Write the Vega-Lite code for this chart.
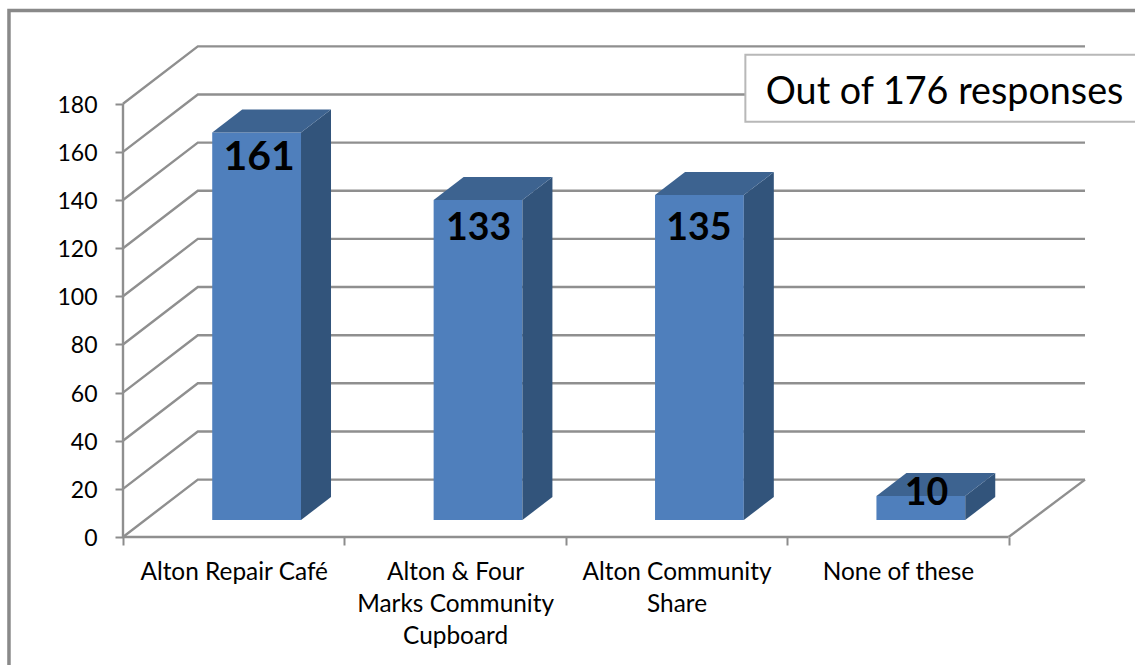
{"$schema":"https://vega.github.io/schema/vega-lite/v6.json","width":962,"height":491,"autosize":"none","padding":{"left":123,"top":46,"right":50,"bottom":128},"background":"white","config":{"view":{"stroke":null},"text":{"font":"Lato"}},
"datasets":{"bars":[{"category":"Alton Repair Café","i":0,"value":161},{"category":"Alton & Four Marks Community Cupboard","i":1,"value":133},{"category":"Alton Community Share","i":2,"value":135},{"category":"None of these","i":3,"value":10}],"ticks":[{"v":0},{"v":20},{"v":40},{"v":60},{"v":80},{"v":100},{"v":120},{"v":140},{"v":160},{"v":180}]},
"encoding":{"x":{"field":"px","type":"quantitative","title":null,"scale":{"domain":[0,4.345],"nice":false,"zero":false},"axis":{"values":[0,0.5,1,1.5,2,2.5,3,3.5,4],"domain":false,"grid":false,"tickSize":8,"tickWidth":2,"tickColor":"#8c8c8c","tickOpacity":{"expr":"datum.value % 1 == 0 ? 1 : 0"},"labelExpr":"datum.value == 0.5 ? 'Alton Repair Café' : datum.value == 1.5 ? ['Alton & Four','Marks Community','Cupboard'] : datum.value == 2.5 ? ['Alton Community','Share'] : datum.value == 3.5 ? 'None of these' : ''","labelFont":"Lato","labelFontSize":24.4,"labelColor":"#000000","labelPadding":15,"labelLineHeight":32,"labelLimit":400,"labelOverlap":false,"labelFlush":false,"labelBound":false,"labelAngle":0,"labelBaseline":"top"}},"y":{"field":"py","type":"quantitative","title":null,"stack":null,"scale":{"domain":[0,204],"nice":false},"axis":{"values":[0,20,40,60,80,100,120,140,160,180],"domain":false,"grid":false,"tickSize":8,"tickWidth":2,"tickColor":"#8c8c8c","labelFont":"Lato","labelFontSize":23,"labelColor":"#000000","labelPadding":18,"labelOffset":1.5}}},
"layer":[
{"data":{"name":"ticks"},"transform":[{"calculate":"[0,1,2]","as":"k"},{"flatten":["k"]},{"calculate":"datum.k == 0 ? 0 : datum.k == 1 ? 0.338 : 4.345","as":"px"},{"calculate":"datum.v + (datum.k == 0 ? 0 : 23.85)","as":"py"}],"mark":{"type":"line","stroke":"#8f8f8f","strokeWidth":2.4},"encoding":{"detail":{"field":"v"}}},
{"data":{"values":[{"s":"v","px":0,"py":0},{"s":"v","px":0,"py":180},{"s":"h","px":0,"py":0},{"s":"h","px":4,"py":0},{"s":"r","px":4,"py":0},{"s":"r","px":4.345,"py":23.85}]},"mark":{"type":"line","stroke":"#8f8f8f","strokeWidth":2.4},"encoding":{"detail":{"field":"s"}}},
{"data":{"values":[{"px":-0.515,"px2":4.8,"py":-60,"py2":218.7}]},"mark":{"type":"rect","fill":null,"stroke":"#898989","strokeWidth":3.5},"encoding":{"x2":{"field":"px2"},"y2":{"field":"py2"}}},
{"data":{"name":"bars"},"transform":[{"calculate":"datum.i + 0.403","as":"px"},{"calculate":"datum.i + 0.804","as":"px2"},{"calculate":"7.06","as":"py"},{"calculate":"datum.value + 7.06","as":"py2"}],"mark":{"type":"rect","fill":"#4f7fbc"},"encoding":{"x2":{"field":"px2"},"y2":{"field":"py2"}}},
{"data":{"name":"bars"},"transform":[{"calculate":"[0,1]","as":"k"},{"flatten":["k"]},{"calculate":"datum.i + 0.804 + datum.k * 0.1355","as":"px"},{"calculate":"7.06 + datum.k * 9.56","as":"py"},{"calculate":"datum.value + 7.06 + datum.k * 9.56","as":"py2"}],"mark":{"type":"area","fill":"#32547b"},"encoding":{"y2":{"field":"py2"},"detail":{"field":"category"}}},
{"data":{"name":"bars"},"transform":[{"calculate":"[0,1,2,3]","as":"k"},{"flatten":["k"]},{"calculate":"datum.i + 0.403 + (datum.k == 0 ? 0 : datum.k == 1 ? 0.1355 : datum.k == 2 ? 0.401 : 0.5365)","as":"px"},{"calculate":"datum.value + 7.06 + (datum.k == 3 ? 9.56 : 0)","as":"py"},{"calculate":"datum.value + 7.06 + (datum.k == 0 ? 0 : 9.56)","as":"py2"}],"mark":{"type":"area","fill":"#3d6390"},"encoding":{"y2":{"field":"py2"},"detail":{"field":"category"}}},
{"data":{"values":[{"px":2.811,"px2":4.8,"py":172.5,"py2":200.4}]},"mark":{"type":"rect","fill":"white","stroke":"#b8b8b8","strokeWidth":2},"encoding":{"x2":{"field":"px2"},"y2":{"field":"py2"}}},
{"data":{"values":[{"t":"Out of 176 responses","px":2.903,"py":184.5}]},"mark":{"type":"text","align":"left","baseline":"middle","fontSize":37.7,"font":"Lato","fill":"#000000"},"encoding":{"text":{"field":"t"}}},
{"data":{"name":"bars"},"transform":[{"filter":"datum.i == 0"},{"calculate":"datum.i + 0.6015","as":"px"},{"calculate":"datum.value + 7.06","as":"py"}],"mark":{"type":"text","font":"Lato","fontWeight":"bold","fontSize":41,"fill":"#000000","baseline":"middle","dx":3,"dy":25},"encoding":{"text":{"field":"value"}}},
{"data":{"name":"bars"},"transform":[{"filter":"datum.i == 1"},{"calculate":"datum.i + 0.6015","as":"px"},{"calculate":"datum.value + 7.06","as":"py"}],"mark":{"type":"text","font":"Lato","fontWeight":"bold","fontSize":37.5,"fill":"#000000","baseline":"middle","dx":1,"dy":29},"encoding":{"text":{"field":"value"}}},
{"data":{"name":"bars"},"transform":[{"filter":"datum.i == 2"},{"calculate":"datum.i + 0.6015","as":"px"},{"calculate":"datum.value + 7.06","as":"py"}],"mark":{"type":"text","font":"Lato","fontWeight":"bold","fontSize":37.5,"fill":"#000000","baseline":"middle","dx":0,"dy":34},"encoding":{"text":{"field":"value"}}},
{"data":{"name":"bars"},"transform":[{"filter":"datum.i == 3"},{"calculate":"datum.i + 0.6015","as":"px"},{"calculate":"datum.value + 7.06","as":"py"}],"mark":{"type":"text","font":"Lato","fontWeight":"bold","fontSize":37.5,"fill":"#000000","baseline":"middle","dx":6,"dy":-2},"encoding":{"text":{"field":"value"}}}
]}
